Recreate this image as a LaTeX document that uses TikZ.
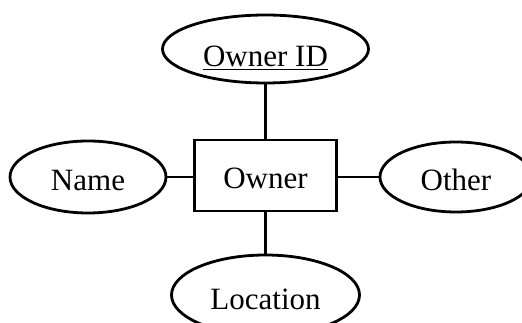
\documentclass[tikz,border=0pt]{standalone}
\usepackage{fontspec}
\setmainfont{Liberation Serif}
\usetikzlibrary{shapes.geometric}
\tikzset{
  attr/.style={ellipse, draw, line width=2.8pt, inner sep=0pt,
    font=\fontsize{31}{31}\selectfont, text depth=0pt, text height=28pt},
  entity/.style={rectangle, draw, line width=2.8pt, inner sep=0pt,
    font=\fontsize{31}{31}\selectfont, text depth=0pt, text height=27pt},
  link/.style={line width=2.3pt}
}
\begin{document}
\begin{tikzpicture}[x=1pt, y=-1pt]
  \useasboundingbox (0,0) rectangle (522,323);
  % entity
  \node[entity, minimum width=142pt, minimum height=71pt] (owner) at (265.5,175.5) {Owner};
  % attributes
  \node[attr, minimum width=206pt, minimum height=68pt, text height=36pt] (ownerid) at (265.5,49) {\underline{Owner ID}};
  \node[attr, minimum width=156pt, minimum height=72pt] (name) at (88,177) {Name};
  \node[attr, minimum width=152pt, minimum height=70pt] (other) at (456,177) {Other};
  \node[attr, minimum width=188pt, minimum height=80pt] (location) at (265.5,295) {Location};
  % connectors
  \draw[link] (ownerid.south) -- (owner.north);
  \draw[link] (owner.south) -- (location.north);
  \draw[link] (name.east) -- (name.east -| owner.west);
  \draw[link] (other.west) -- (other.west -| owner.east);
\end{tikzpicture}
\end{document}
